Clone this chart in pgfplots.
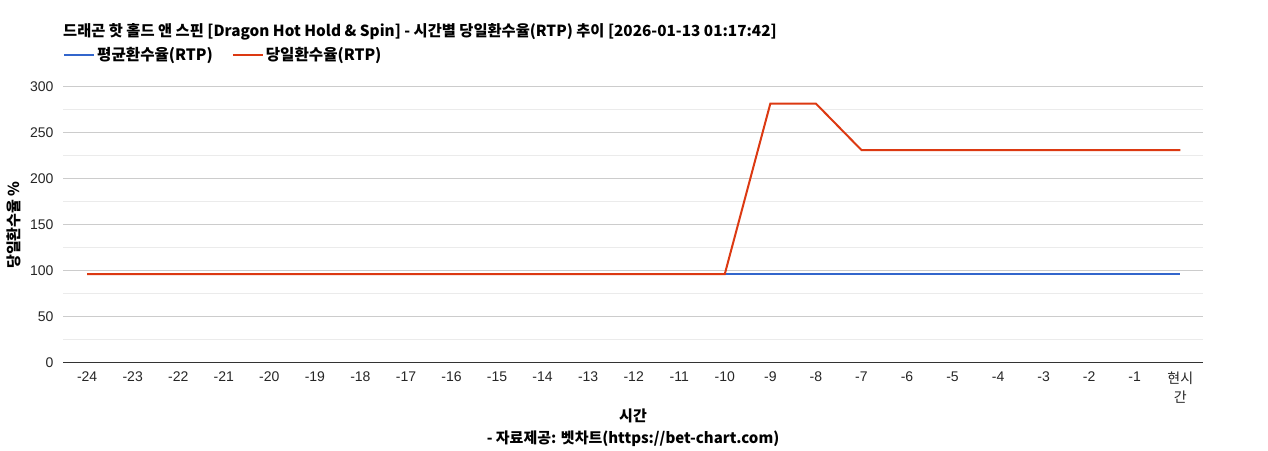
\documentclass[border=0pt]{standalone}
\usepackage{fontspec}
\setmainfont{Liberation Sans}
\newfontfamily\kr{Noto Sans CJK KR}
\usepackage{pgfplots}
\pgfplotsset{compat=1.18}
\definecolor{avgblue}{HTML}{3366CC}
\definecolor{dayred}{HTML}{DC3912}
\definecolor{gridmaj}{HTML}{CCCCCC}
\definecolor{gridmin}{HTML}{EBEBEB}
\definecolor{axisdark}{HTML}{333333}
\begin{document}
\begin{tikzpicture}[x=1pt,y=1pt]
\path[fill=white] (0,0) rectangle (1268,450);
\begin{axis}[
  at={(63pt,87pt)}, anchor=south west,
  scale only axis, width=1140pt, height=276pt,
  font=\fontsize{14}{16}\selectfont,
  xmin=-0.53, xmax=24.5,
  ymin=0, ymax=300,
  ytick={0,50,...,300},
  minor y tick num=1,
  ymajorgrids, yminorgrids,
  major grid style={gridmaj, line width=1pt},
  minor grid style={gridmin, line width=1pt},
  major tick length=0pt, minor tick length=0pt,
  axis x line*=bottom, axis y line*=left,
  x axis line style={-, axisdark, line width=1pt},
  y axis line style={draw=none},
  xtick={0,...,24},
  xticklabels={-24,-23,-22,-21,-20,-19,-18,-17,-16,-15,-14,-13,-12,-11,-10,-9,-8,-7,-6,-5,-4,-3,-2,-1,{\kr 현시\\\kr 간}},
  xticklabel style={align=center, text=black!85, font=\fontsize{14}{19}\selectfont, yshift=-5pt},
  yticklabel style={text=black!85, xshift=-6pt},
  /pgf/number format/assume math mode=true,
  title={\kr\bfseries 드래곤 핫 홀드 앤 스핀 [Dragon Hot Hold \& Spin] - 시간별 당일환수율(RTP) 추이 [2026-01-13 01:17:42]},
  title style={at={(rel axis cs:0,1.178)}, anchor=west, inner sep=0pt, font=\fontsize{15.3}{17}\selectfont},
  ylabel={\kr\bfseries 당일환수율 \%},
  ylabel style={at={(rel axis cs:-0.043,0.5)}, anchor=center, inner sep=0pt, font=\fontsize{15}{17}\selectfont},
  xlabel={\kr\bfseries 시간\\\kr\bfseries - 자료제공: 벳차트(https://bet-chart.com)},
  xlabel style={align=center, at={(rel axis cs:0.5,0)}, anchor=center, yshift=-65pt, font=\fontsize{15}{22}\selectfont},
  legend columns=2,
  legend style={draw=none, fill=none, inner sep=0pt, at={(rel axis cs:0,1.116)}, anchor=west,
    font=\kr\bfseries\fontsize{15.6}{17}\selectfont,
    /tikz/every even column/.append style={column sep=17pt}},
  legend image code/.code={\draw[#1, line width=2pt] (0pt,0pt) -- (30pt,0pt);},
  clip=false,
]
\addplot[avgblue, line width=2pt] coordinates {
(0,96.5) (1,96.5) (2,96.5) (3,96.5) (4,96.5) (5,96.5) (6,96.5) (7,96.5) (8,96.5)
(9,96.5) (10,96.5) (11,96.5) (12,96.5) (13,96.5) (14,96.5) (15,96.5) (16,96.5)
(17,96.5) (18,96.5) (19,96.5) (20,96.5) (21,96.5) (22,96.5) (23,96.5) (24,96.5)
};
\addlegendentry{평균환수율(RTP)}
\addplot[dayred, line width=2pt] coordinates {
(0,96.7) (1,96.7) (2,96.7) (3,96.7) (4,96.7) (5,96.7) (6,96.7) (7,96.7) (8,96.7)
(9,96.7) (10,96.7) (11,96.7) (12,96.7) (13,96.7) (14,96.7) (15,282) (16,282)
(17,231.5) (18,231.5) (19,231.5) (20,231.5) (21,231.5) (22,231.5) (23,231.5) (24,231.5)
};
\addlegendentry{당일환수율(RTP)}
\end{axis}
\end{tikzpicture}
\end{document}
